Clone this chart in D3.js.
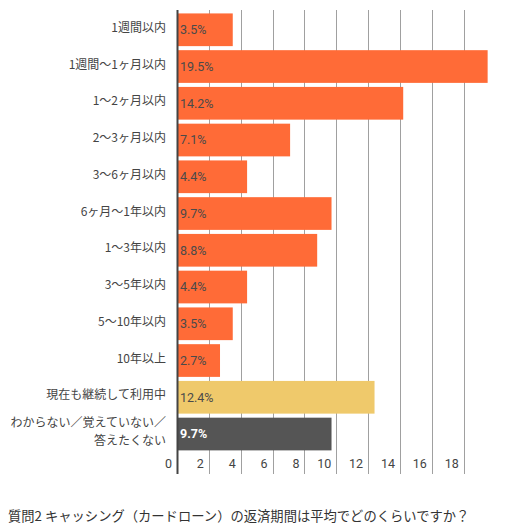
<!DOCTYPE html>
<html><head><meta charset="utf-8">
<script src="https://cdn.jsdelivr.net/npm/d3@7"></script>
<style>body{margin:0;background:#fff}svg{display:block}</style>
</head><body>
<script>
const categories = ["1週間以内","1週間〜1ヶ月以内","1〜2ヶ月以内","2〜3ヶ月以内","3〜6ヶ月以内","6ヶ月〜1年以内","1〜3年以内","3〜5年以内","5〜10年以内","10年以上","現在も継続して利用中","わからない／覚えていない／\n答えたくない"];
const values = [3.5,19.5,14.2,7.1,4.4,9.7,8.8,4.4,3.5,2.7,12.4,9.7];
const barColors = ["#FF6B37","#FF6B37","#FF6B37","#FF6B37","#FF6B37","#FF6B37","#FF6B37","#FF6B37","#FF6B37","#FF6B37","#EFC96B","#555555"];
const tickValues = [0,2,4,6,8,10,12,14,16,18];
const title = "質問2 キャッシング（カードローン）の返済期間は平均でどのくらいですか？";

const W = 511, H = 530;
const font = "'Noto Sans CJK JP','Noto Sans',sans-serif";
const numFont = "Roboto,'Noto Sans',sans-serif";
const svg = d3.select("body").append("svg").attr("width", W).attr("height", H);

const x = d3.scaleLinear().domain([0, 20]).range([177, 495.6]);
const y = d3.scaleBand().domain(categories).range([11.4, 452.4]).paddingInner(0.11).paddingOuter(0.055);

// grid
svg.append("g").selectAll("line").data(tickValues.filter(d => d > 0)).join("line")
  .attr("x1", d => Math.round(x(d)) + 0.5).attr("x2", d => Math.round(x(d)) + 0.5)
  .attr("y1", 10).attr("y2", 474)
  .attr("stroke", "#a0a0a0").attr("stroke-width", 1);

// bars
svg.append("g").selectAll("rect").data(values).join("rect")
  .attr("x", x(0)).attr("y", (d, i) => y(categories[i]))
  .attr("width", d => x(d) - x(0)).attr("height", y.bandwidth())
  .attr("fill", (d, i) => barColors[i]);

// bar value labels
svg.append("g").selectAll("text").data(values).join("text")
  .attr("x", x(0) + 3).attr("y", (d, i) => y(categories[i]) + y.bandwidth() / 2)
  .attr("dy", "0.35em")
  .attr("font-family", numFont).attr("font-size", 12.5)
  .attr("font-weight", (d, i) => i === 11 ? 700 : 400)
  .attr("fill", (d, i) => i === 11 ? "#ffffff" : "#4a4a4a")
  .text(d => d.toFixed(1) + "%");

// y axis line
svg.append("line").attr("x1", 177.5).attr("x2", 177.5).attr("y1", 10).attr("y2", 474)
  .attr("stroke", "#444").attr("stroke-width", 2);

// category labels
const lab = svg.append("g").selectAll("text").data(categories).join("text")
  .attr("x", 166).attr("y", d => y(d) + y.bandwidth() / 2)
  .attr("text-anchor", "end")
  .attr("font-family", font).attr("font-size", 12).attr("fill", "#444");
lab.each(function(d) {
  const lines = d.split("\n");
  const t = d3.select(this);
  const gap = 18;
  lines.forEach((l, k) => {
    t.append("tspan").attr("x", 166)
      .attr("dy", k === 0 ? (4 - (lines.length - 1) * gap / 2 - 2) : gap)
      .text(l);
  });
});

// x tick labels
svg.append("g").selectAll("text").data(tickValues).join("text")
  .attr("x", d => x(d) - 5).attr("y", 464).attr("dy", "0.35em")
  .attr("text-anchor", "end")
  .attr("font-family", numFont).attr("font-size", 12.5).attr("font-weight", 400).attr("fill", "#444")
  .text(d => d);

// title
svg.append("text").attr("x", 8).attr("y", 521)
  .attr("font-family", font).attr("font-size", 13.3).attr("fill", "#333")
  .text(title);
</script>
</body></html>
